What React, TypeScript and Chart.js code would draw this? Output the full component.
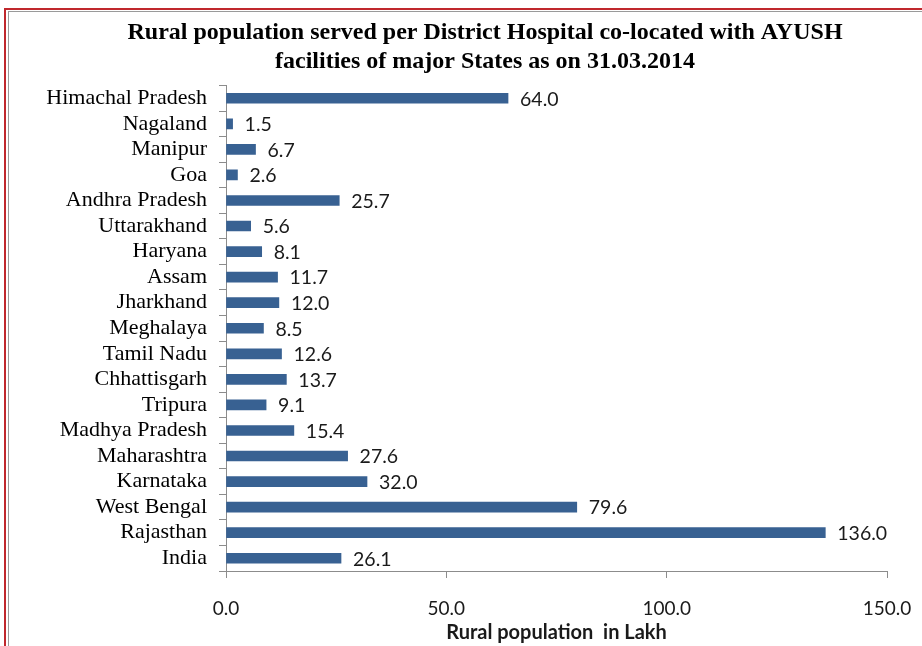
import React, { useEffect, useRef } from "react";
import { Chart, registerables } from "chart.js";

Chart.register(...registerables);

const states = [
  "Himachal Pradesh",
  "Nagaland",
  "Manipur",
  "Goa",
  "Andhra Pradesh",
  "Uttarakhand",
  "Haryana",
  "Assam",
  "Jharkhand",
  "Meghalaya",
  "Tamil Nadu",
  "Chhattisgarh",
  "Tripura",
  "Madhya Pradesh",
  "Maharashtra",
  "Karnataka",
  "West Bengal",
  "Rajasthan",
  "India",
];

const ruralPopulation = [
  64.0, 1.5, 6.7, 2.6, 25.7, 5.6, 8.1, 11.7, 12.0, 8.5, 12.6, 13.7, 9.1, 15.4,
  27.6, 32.0, 79.6, 136.0, 26.1,
];

const titleLines = [
  "Rural population served per District Hospital co-located with AYUSH",
  "facilities of major States as on 31.03.2014",
];
const xAxisTitle = "Rural population  in Lakh";

const valueLabelPlugin = {
  id: "valueLabels",
  afterDatasetsDraw(chart: any) {
    const ctx = chart.ctx;
    const meta = chart.getDatasetMeta(0);
    ctx.save();
    ctx.font = "19.5px Lato";
    ctx.fillStyle = "#1a1a1a";
    ctx.textAlign = "left";
    ctx.textBaseline = "middle";
    meta.data.forEach((bar: any, i: number) => {
      const v = chart.data.datasets[0].data[i] as number;
      ctx.fillText(v.toFixed(1), bar.x + 12, bar.y + 1);
    });
    ctx.restore();
  },
};

const titlePlugin = {
  id: "centredTitle",
  afterDraw(chart: any) {
    const ctx = chart.ctx;
    ctx.save();
    ctx.font = "bold 24px 'Liberation Serif'";
    ctx.fillStyle = "#000";
    ctx.textAlign = "center";
    ctx.textBaseline = "middle";
    const cx = 485;
    titleLines.forEach((line, i) => {
      ctx.fillText(line, cx, 33 + i * 29);
    });
    ctx.restore();
  },
};

export default function App() {
  const canvasRef = useRef<HTMLCanvasElement>(null);

  useEffect(() => {
    const canvas = canvasRef.current;
    if (!canvas) return;
    const chart = new Chart(canvas, {
      type: "bar",
      data: {
        labels: states,
        datasets: [
          {
            data: ruralPopulation,
            backgroundColor: "#386192",
            barThickness: 10,
          },
        ],
      },
      options: {
        indexAxis: "y",
        animation: false,
        responsive: false,
        maintainAspectRatio: false,
        layout: { padding: { left: 0, right: 35, top: 85.5, bottom: 0 } },
        plugins: {
          legend: { display: false },
          tooltip: { enabled: false },
          title: { display: false },
        },
        scales: {
          x: {
            min: 0,
            max: 150,
            ticks: {
              stepSize: 50,
              callback: (v: any) => Number(v).toFixed(1),
              font: { family: "Lato", size: 19 },
              color: "#1a1a1a",
              padding: 19,
            },
            grid: {
              drawOnChartArea: false,
              tickLength: 7,
              color: "#8c8c8c",
            },
            border: { color: "#8c8c8c" },
            title: {
              display: true,
              text: xAxisTitle,
              font: { family: "Lato", size: 20, weight: "bold" },
              color: "#1a1a1a",
              padding: { top: 0, bottom: 1 },
            },
            afterFit: (scale: any) => {
              scale.height = 75;
              scale.paddingLeft = 0;
              scale.paddingRight = 0;
            },
          },
          y: {
            ticks: {
              autoSkip: false,
              font: { family: "Liberation Serif", size: 22 },
              color: "#000",
              padding: 12,
            },
            grid: {
              drawOnChartArea: false,
              offset: true,
              tickLength: 7,
              color: "#8c8c8c",
            },
            border: { color: "#8c8c8c" },
            afterFit: (scale: any) => {
              scale.width = 226;
              scale.paddingTop = 0;
              scale.paddingBottom = 0;
            },
          },
        },
      },
      plugins: [valueLabelPlugin, titlePlugin],
    });
    return () => chart.destroy();
  }, []);

  return (
    <div
      style={{
        position: "fixed",
        left: 0,
        top: 0,
        width: 922,
        height: 646,
        background: "#fff",
        overflow: "hidden",
      }}
    >
      <div
        style={{
          position: "absolute",
          left: 4,
          top: 8,
          width: 940,
          height: 660,
          borderLeft: "2px solid #c0282d",
          borderTop: "2px solid #c0282d",
        }}
      />
      <div
        style={{
          position: "absolute",
          left: 8,
          top: 11,
          width: 940,
          height: 660,
          borderLeft: "1px solid #9a9a9a",
          borderTop: "1px solid #9a9a9a",
        }}
      />
      <canvas
        ref={canvasRef}
        width={922}
        height={646}
        style={{ position: "absolute", left: 0, top: 0 }}
      />
    </div>
  );
}
